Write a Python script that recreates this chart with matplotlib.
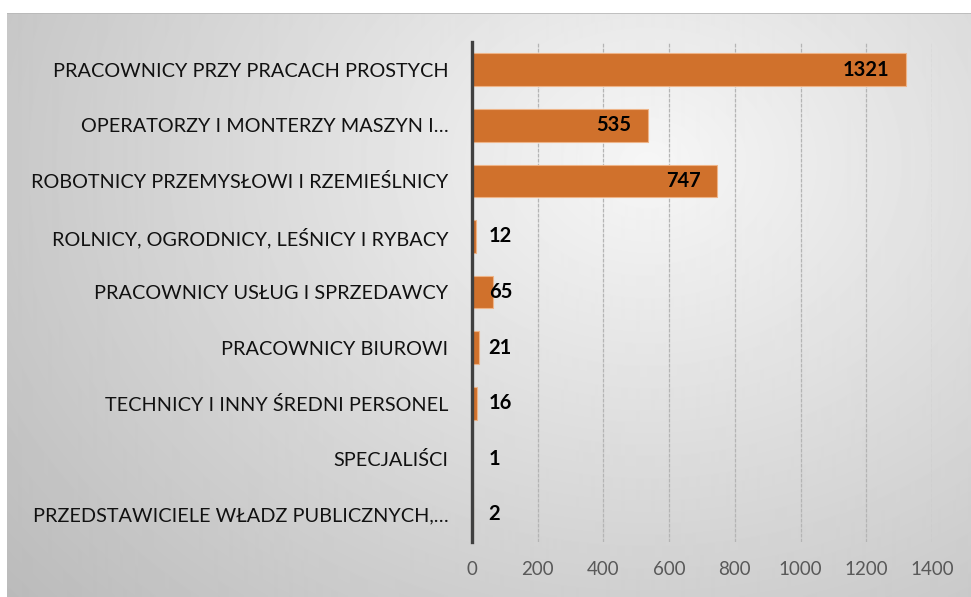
import numpy as np
import matplotlib
matplotlib.use('Agg')
import matplotlib.pyplot as plt

categories = [
    'PRACOWNICY PRZY PRACACH PROSTYCH',
    'OPERATORZY I MONTERZY MASZYN I…',
    'ROBOTNICY PRZEMYSŁOWI I RZEMIEŚLNICY',
    'ROLNICY, OGRODNICY, LEŚNICY I RYBACY',
    'PRACOWNICY USŁUG I SPRZEDAWCY',
    'PRACOWNICY BIUROWI',
    'TECHNICY I INNY ŚREDNI PERSONEL',
    'SPECJALIŚCI',
    'PRZEDSTAWICIELE WŁADZ PUBLICZNYCH,…',
]
values = [1321, 535, 747, 12, 65, 21, 16, 1, 2]
xticks = [0, 200, 400, 600, 800, 1000, 1200, 1400]

plt.rcParams['font.family'] = ['Lato', 'DejaVu Sans']

W, H = 971, 597
fig = plt.figure(figsize=(W / 100, H / 100), dpi=100)
fig.patch.set_facecolor('white')

# gradient background panel
bg = fig.add_axes([7 / W, 0, 1 - 7 / W, 1 - 13 / H], zorder=0)
yy, xx = np.mgrid[0:584, 0:964]
d = np.sqrt((xx - 640.0) ** 2 + ((yy - 150.0) * 1.25) ** 2)
g = 0.965 - 0.20 * np.clip(d / 720.0, 0, 1.2)
bg.imshow(g, cmap='gray', vmin=0, vmax=1, aspect='auto', interpolation='bilinear')
bg.axhline(-0.5, color='#b8b8b8', lw=1.2)
bg.set_axis_off()

ax = fig.add_axes([472 / W, 55 / H, 460 / W, 500 / H], zorder=1)
ax.patch.set_alpha(0)

y = np.arange(len(categories))
ax.barh(y, values, height=0.59, color='#d0712c', edgecolor='#eeb488',
        linewidth=0.8, zorder=3)

ax.set_xlim(0, 1400)
ax.set_ylim(len(categories) - 0.5, -0.5)
ax.set_xticks(xticks)
ax.set_yticks(y)
ax.set_yticklabels(categories, fontsize=14.3, color='#111111')
ax.tick_params(axis='y', length=0, pad=17)
ax.tick_params(axis='x', length=0, pad=14, labelsize=13.5, labelcolor='#595959')
ax.xaxis.grid(True, color='#b4b4b4', lw=0.9, ls=(0, (3, 1)), zorder=1)
for s in ['top', 'right', 'bottom']:
    ax.spines[s].set_visible(False)
ax.spines['left'].set_color('#404040')
ax.spines['left'].set_linewidth(2.4)
ax.spines['left'].set_zorder(4)

for yi, v in zip(y, values):
    if v > 200:
        ax.annotate(str(v), (v, yi), xytext=(-12, 0), textcoords='offset points',
                    ha='right', va='center', fontsize=14.5, fontweight='bold',
                    color='black', zorder=5)
    else:
        ax.annotate(str(v), (0, yi), xytext=(12, 0), textcoords='offset points',
                    ha='left', va='center', fontsize=14.5, fontweight='bold',
                    color='black', zorder=5)

fig.savefig('out.png', dpi=100)
